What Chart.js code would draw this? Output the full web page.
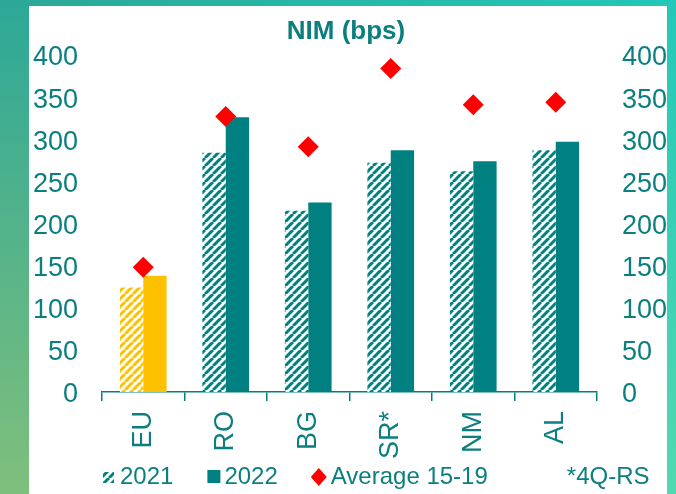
<!DOCTYPE html>
<html>
<head>
<meta charset="utf-8">
<script src="https://cdn.jsdelivr.net/npm/chart.js@4.4.1/dist/chart.umd.min.js"></script>
<style>
  html, body { margin: 0; padding: 0; }
  body {
    width: 676px; height: 494px; overflow: hidden; position: relative;
    background: linear-gradient(to right, #2ca897, #22c8b8);
  }
  #bandL { position: absolute; left: 0; top: 0; width: 29px; height: 494px;
           background: linear-gradient(to bottom, #2ca897, #80bf7c); }
  #bandR { position: absolute; right: 0; top: 0; width: 9px; height: 494px;
           background: linear-gradient(to bottom, #22c8b8, #52d9b0); }
  #panel { position: absolute; left: 29px; top: 6px; width: 638px; height: 488px; background: #fff; }
</style>
</head>
<body>
<div id="bandL"></div>
<div id="bandR"></div>
<div id="panel"><canvas id="nimChart" width="638" height="488"></canvas></div>

<script>
/* ─── Data ──────────────────────────────────────── */
const CATEGORIES = ['EU', 'RO', 'BG', 'SR*', 'NM', 'AL'];
const NIM_2021   = [124, 284, 215, 272, 262, 287];
const NIM_2022   = [138, 326, 225, 287, 274, 297];
const AVG_15_19  = [148, 327, 291, 384, 341, 344];

const Y_MIN  = 0;
const Y_MAX  = 400;
const Y_STEP = 50;

const TITLE = 'NIM (bps)';
const NOTE  = '*4Q-RS';

/* ─── Colours ───────────────────────────────────── */
const TEAL   = '#008080';
const YELLOW = '#FFC000';
const RED    = '#FF0000';
const INK    = '#0b7f7f';

/* ─── Helpers ───────────────────────────────────── */
function hatch(color) {
  const c = document.createElement('canvas');
  c.width = 8; c.height = 8;
  const g = c.getContext('2d');
  g.fillStyle = '#fff';
  g.fillRect(0, 0, 8, 8);
  g.strokeStyle = color;
  g.lineWidth = 3;
  [-8, 0, 8].forEach(k => {
    g.beginPath();
    g.moveTo(k, 8);
    g.lineTo(k + 8, 0);
    g.stroke();
  });
  return g.createPattern(c, 'repeat');
}

const tealHatch   = hatch(TEAL);
const yellowHatch = hatch(YELLOW);

const isEU = c => c === 'EU';

/* ─── Title + legend drawn on the canvas ────────── */
const nimDecor = {
  id: 'nimDecor',
  afterDraw(chart) {
    const ctx = chart.ctx;
    ctx.save();

    ctx.fillStyle = INK;
    ctx.font = 'bold 26px Arial, "Liberation Sans", sans-serif';
    ctx.textAlign = 'center';
    ctx.textBaseline = 'middle';
    ctx.fillText(TITLE, chart.width / 2 - 2, 26);

    ctx.font = '24px Arial, "Liberation Sans", sans-serif';
    ctx.textAlign = 'left';
    const y = 471;
    let x = 74;
    const ds = chart.data.datasets;

    // 2021
    ctx.fillStyle = tealHatch;
    ctx.fillRect(x, y - 5, 11, 11);
    x += 17;
    ctx.fillStyle = INK;
    ctx.fillText(ds[0].label, x, y);
    x += ctx.measureText(ds[0].label).width + 34;

    // 2022
    ctx.fillStyle = TEAL;
    ctx.fillRect(x, y - 7, 13, 13);
    x += 17;
    ctx.fillStyle = INK;
    ctx.fillText(ds[1].label, x, y);
    x += ctx.measureText(ds[1].label).width + 33;

    // average
    ctx.fillStyle = RED;
    ctx.beginPath();
    ctx.moveTo(x + 8, y - 9);
    ctx.lineTo(x + 16, y);
    ctx.lineTo(x + 8, y + 9);
    ctx.lineTo(x, y);
    ctx.closePath();
    ctx.fill();
    x += 20;
    ctx.fillStyle = INK;
    ctx.fillText(ds[2].label, x, y);
    x += ctx.measureText(ds[2].label).width + 79;

    ctx.fillText(NOTE, x, y);
    ctx.restore();
  }
};

/* ─── Chart ─────────────────────────────────────── */
const tickFont = { size: 27, family: 'Arial, "Liberation Sans", sans-serif' };

new Chart(document.getElementById('nimChart'), {
  type: 'bar',
  data: {
    labels: CATEGORIES,
    datasets: [
      {
        label: '2021',
        data: NIM_2021,
        backgroundColor: CATEGORIES.map(c => isEU(c) ? yellowHatch : tealHatch),
        borderWidth: 0,
        order: 2,
      },
      {
        label: '2022',
        data: NIM_2022,
        backgroundColor: CATEGORIES.map(c => isEU(c) ? YELLOW : TEAL),
        borderWidth: 0,
        order: 2,
      },
      {
        type: 'line',
        label: 'Average 15-19',
        data: AVG_15_19,
        showLine: false,
        pointStyle: 'rectRot',
        pointRadius: 10.5,
        pointBackgroundColor: RED,
        pointBorderWidth: 0,
        order: 1,
      },
    ],
  },
  options: {
    responsive: false,
    animation: false,
    categoryPercentage: 0.566,
    barPercentage: 1.0,
    layout: { padding: { top: 49, bottom: 0, left: 0, right: 0 } },
    plugins: {
      legend:  { display: false },
      title:   { display: false },
      tooltip: { enabled: false },
    },
    scales: {
      x: {
        offset: true,
        grid: { display: true, offset: true, drawOnChartArea: false, tickLength: 9, color: TEAL, lineWidth: 1.5 },
        border: { display: true, color: TEAL, width: 1.5 },
        ticks: { color: INK, minRotation: 90, maxRotation: 90, padding: 10,
                 font: { size: 27, family: '"Liberation Sans Narrow", "Arial Narrow", Arial, sans-serif' } },
        afterFit: s => { s.height = 102; },
      },
      y: {
        position: 'left',
        min: Y_MIN, max: Y_MAX,
        grid: { display: false },
        border: { display: false },
        ticks: { stepSize: Y_STEP, color: INK, padding: 16, labelOffset: 3, font: tickFont },
        afterFit: s => { s.width = 73; },
      },
      y2: {
        position: 'right',
        min: Y_MIN, max: Y_MAX,
        grid: { display: false },
        border: { display: false },
        ticks: { stepSize: Y_STEP, color: INK, padding: 17, labelOffset: 3, font: tickFont },
        afterFit: s => { s.width = 70; },
      },
    },
  },
  plugins: [nimDecor],
});
</script>
</body>
</html>
